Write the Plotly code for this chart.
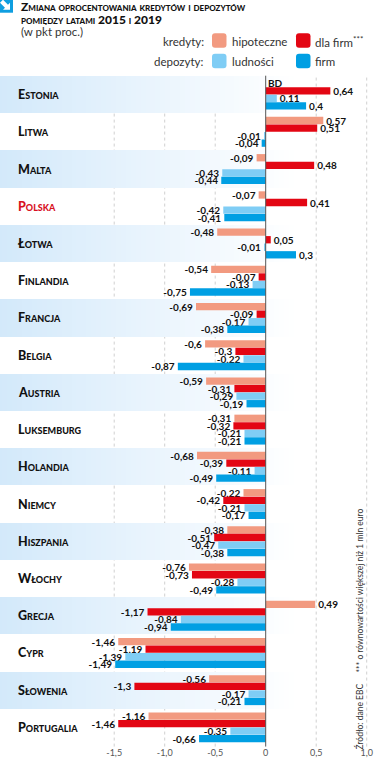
import re
import plotly.graph_objects as go

countries = ["Estonia","Litwa","Malta","Polska","Łotwa","Finlandia","Francja","Belgia","Austria",
             "Luksemburg","Holandia","Niemcy","Hiszpania","Włochy","Grecja","Cypr","Słowenia","Portugalia"]
hipoteczne = [None,.57,-.09,-.07,-.48,-.54,-.69,-.6,-.59,-.31,-.68,-.22,-.38,-.76,.49,-1.46,-.56,-1.16]
dla_firm   = [.64,.51,.48,.41,.05,-.07,-.09,-.3,-.31,-.32,-.39,-.42,-.51,-.73,-1.17,-1.19,-1.3,-1.46]
ludnosci   = [.11,-.01,-.43,-.42,-.01,-.13,-.17,-.22,-.29,-.21,-.11,-.21,-.47,-.28,-.84,-1.39,-.17,-.35]
firm       = [.4,-.04,-.44,-.41,.3,-.75,-.38,-.87,-.19,-.21,-.49,-.17,-.38,-.49,-.94,-1.49,-.21,-.66]
series = [("hipoteczne",hipoteczne,"#f29a80"),("dla firm***",dla_firm,"#e30613"),
          ("ludności",ludnosci,"#7fcdf5"),("firm",firm,"#009fe3")]
tick_vals = [-1.5,-1,-.5,0,.5,1]
tick_text = ["-1,5","-1,0","-0,5","0","0,5","1,0"]

W, H = 374, 760
PX = 101.0
X0 = 265.7
TOP, ROW = 76.3, 37.23
PH = 18*ROW
xr = [-X0/PX, (W-X0)/PX]
FONT = "Lato"

def px(x): return x/W
def py(y): return 1-(y-TOP)/PH

def fmt(v):
    return None if v is None else f"{v:g}".replace(".", ",")

fig = go.Figure()

grad_x = [xr[0] + i*(0.3-xr[0])/60 for i in range(61)]
grad_z = [[(i/60) if r % 2 == 0 else None for i in range(61)] for r in range(len(countries))]
fig.add_trace(go.Heatmap(x=grad_x, y=countries, z=grad_z, showscale=False, hoverinfo="skip",
                         colorscale=[[0,"#d3e9fa"],[.5,"#e9f4fd"],[1,"#ffffff"]], zmin=0, zmax=1))

for name, vals, col in series:
    fig.add_trace(go.Bar(y=countries, x=vals, name=name, orientation="h", marker=dict(color=col, line_width=0),
                         text=[fmt(v) for v in vals], textposition="outside", cliponaxis=False, constraintext="none",
                         textfont=dict(family=FONT, size=10, color="#111", weight=700), showlegend=False))

ann = []
for c in countries:
    ann.append(dict(xref="paper", yref="y", x=px(17), y=c, text=c, showarrow=False, xanchor="left", xshift=-1,
                    font=dict(family=FONT, size=12.5, weight=900, variant="small-caps",
                              color="#d8121f" if c == "Polska" else "#111")))
ann.append(dict(xref="x", yref="y", x=0, y=countries[0], yshift=12, text="BD", showarrow=False, xanchor="left",
                font=dict(family=FONT, size=10, weight=700, color="#111")))

def pt(x, y, text, size=11, color="#333", anchor="left", **kw):
    ann.append(dict(xref="paper", yref="paper", x=px(x), y=py(y), text=text, showarrow=False, xanchor=anchor,
                    yanchor="middle", font=dict(family=FONT, size=size, color=color, **kw)))

pt(19, 7, "Zmiana oprocentowania kredytów i depozytów", 12, "#111", weight=900, variant="small-caps")
pt(19, 19.5, "pomiędzy latami 2015 i 2019", 12, "#111", weight=900, variant="small-caps")
pt(19, 31.5, "(w pkt proc.)", 11.5, "#333")
pt(206, 42, "kredyty:", 11.5, anchor="right")
pt(206, 62, "depozyty:", 11.5, anchor="right")
pt(230, 42, series[0][0], 11.5)
pt(313, 42, "dla firm<sup>***</sup>", 11.5)
pt(230, 62, series[2][0], 11.5)
pt(313, 62, series[3][0], 11.5)

for y, t in [(591, "*** o równowartości większej niż 1 mln euro"), (717, "Źródło: dane EBC")]:
    ann.append(dict(xref="paper", yref="paper", x=px(360), y=py(y), text=t, showarrow=False, textangle=-90,
                    xanchor="center", yanchor="middle", font=dict(family=FONT, size=8.5, color="#333")))

def rrect(x0, y0, w, h, r=3):
    x1, y1 = x0+w, y0+h
    return (f"M{x0+r},{y0} L{x1-r},{y0} Q{x1},{y0} {x1},{y0+r} L{x1},{y1-r} Q{x1},{y1} {x1-r},{y1} "
            f"L{x0+r},{y1} Q{x0},{y1} {x0},{y1-r} L{x0},{y0+r} Q{x0},{y0} {x0+r},{y0} Z")

def topaper(path):
    return re.sub(r"([\d.]+),([\d.]+)", lambda m: f"{px(float(m.group(1))):.5f},{py(float(m.group(2))):.5f}", path)

shapes = []
for (x, y), (_, _, col) in zip([(212,33.5),(296,33.5),(212,54),(296,54)], series):
    shapes.append(dict(type="path", xref="paper", yref="paper", layer="above", line_width=0, fillcolor=col,
                       path=topaper(rrect(x, y, 14.5, 14.5))))

shapes.append(dict(type="path", xref="paper", yref="paper", line_width=0, fillcolor="#0f9ee0",
                   path=topaper("M0,0 L13,0 L13,13 L0,13 Z")))
shapes.append(dict(type="path", xref="paper", yref="paper", line_width=0, fillcolor="white",
                   path=topaper("M0,3 L3,0 L8,5 L10,3 L10,10 L3,10 L5,8 Z")))

for v in tick_vals:
    if v != 0:
        shapes.append(dict(type="line", xref="x", yref="paper", x0=v, x1=v, y0=py(747), y1=py(76),
                           layer="below", line=dict(color="#d0d0d0", width=1, dash="dot")))
shapes.append(dict(type="line", xref="x", yref="paper", x0=0, x1=0, y0=py(747), y1=py(76),
                   layer="above", line=dict(color="#555", width=1)))

fig.update_layout(
    width=W, height=H, margin=dict(l=0, r=0, t=TOP, b=H-(TOP+PH), pad=0, autoexpand=False),
    paper_bgcolor="white", plot_bgcolor="white", barmode="group", bargap=0.19, bargroupgap=0.03,
    xaxis=dict(range=xr, tickvals=tick_vals, ticktext=tick_text, showgrid=False, zeroline=False, showline=False,
               ticks="", tickfont=dict(family=FONT, size=9, color="#555")),
    yaxis=dict(categoryorder="array", categoryarray=countries, autorange="reversed", showticklabels=False,
               showgrid=False, zeroline=False, ticks=""),
    annotations=ann, shapes=shapes, showlegend=False, autosize=False,
)
fig.write_html("out.html", config=dict(displayModeBar=False),
               post_script="document.body.style.margin='0';document.body.style.overflow='hidden';")
